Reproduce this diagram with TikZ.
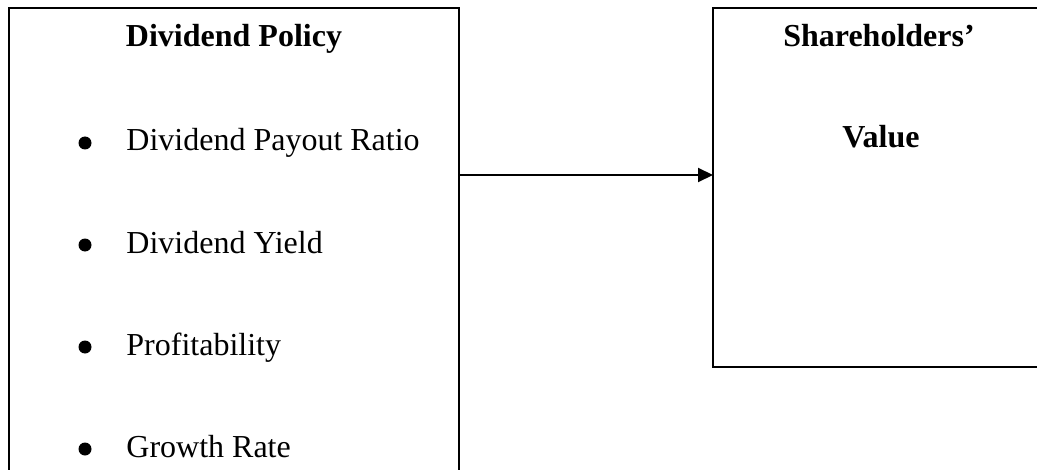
\documentclass[tikz,border=0pt]{standalone}
\usepackage{fontspec}
\setmainfont{Liberation Serif}
\usetikzlibrary{arrows.meta}
\begin{document}
\begin{tikzpicture}[x=0.5pt,y=-0.5pt,
  box/.style={draw, line width=1.25pt, inner sep=0pt, outer sep=0pt},
  txt/.style={inner sep=0pt, font=\fontsize{16}{19}\selectfont},
  ttl/.style={inner sep=0pt, anchor=base, font=\fontsize{16}{19}\selectfont\bfseries},
  item/.style={txt, anchor=base west},
  bul/.style={fill=black, circle, inner sep=0pt, minimum size=6.5pt},
  conn/.style={line width=1pt, -{Triangle[length=7.5pt,width=7pt]}}]
\useasboundingbox (0,0) rectangle (1037,470);
\clip (0,0) rectangle (1037,470);
\node[box, minimum width=225pt, minimum height=256pt] (lbox) at (234,264) {};
\node[box, line width=1pt, minimum width=166pt, minimum height=179.5pt] (rbox) at (879,187.5) {};
\node[ttl] (t1) at (234,47) {Dividend Policy};
\node[bul] (b1) at (85,143) {};
\node[item] (i1) at (126,151) {Dividend Payout Ratio};
\node[bul] (b2) at (85,245) {};
\node[item] (i2) at (126,253) {Dividend Yield};
\node[bul] (b3) at (85,347) {};
\node[item] (i3) at (126,355) {Profitability};
\node[bul] (b4) at (85,449) {};
\node[item] (i4) at (126,457) {Growth Rate};
\node[ttl] (t2) at (879,47) {Shareholders’};
\node[ttl] (t3) at (881,148) {Value};
\coordinate (ay) at (0,175);
\draw[conn] (lbox.east |- ay) -- (rbox.west |- ay);
\end{tikzpicture}
\end{document}
